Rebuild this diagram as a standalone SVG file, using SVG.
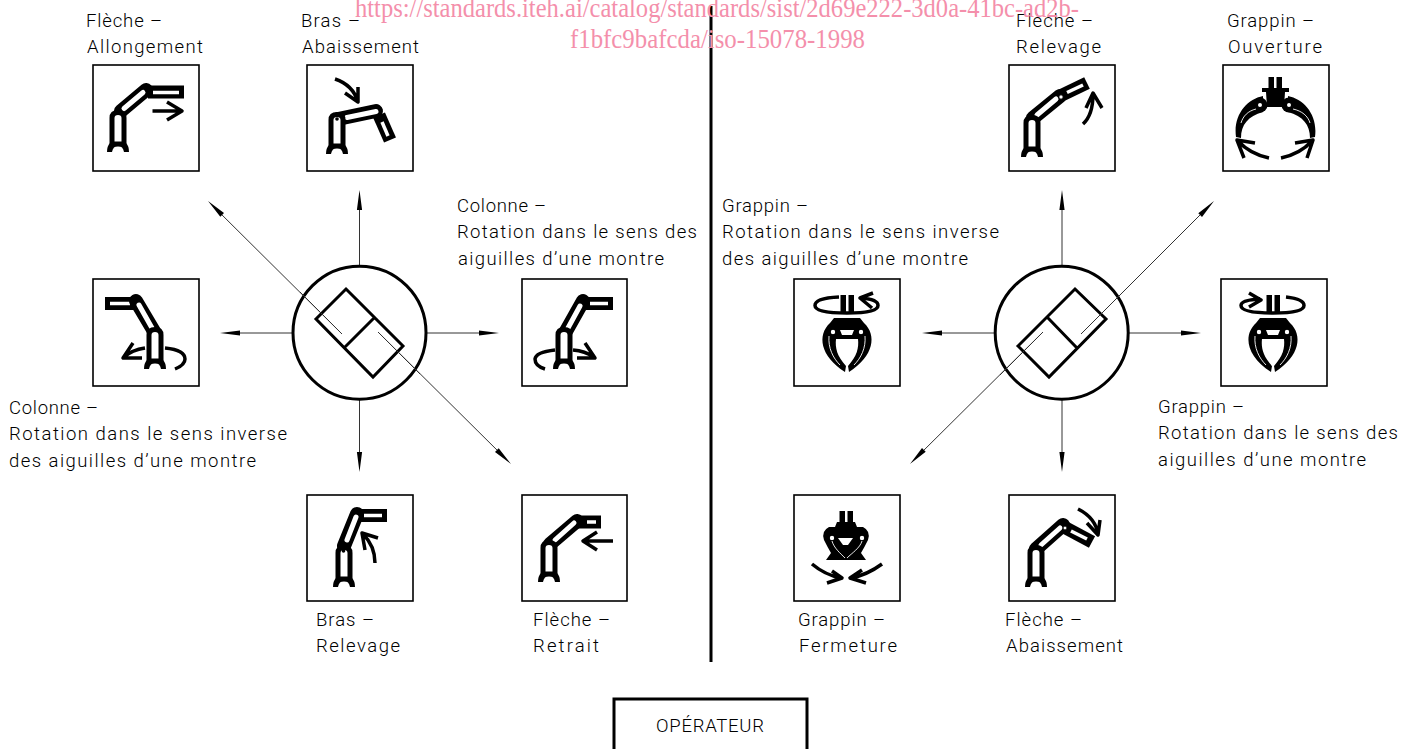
<svg xmlns="http://www.w3.org/2000/svg" xmlns:xlink="http://www.w3.org/1999/xlink" width="1414" height="749" viewBox="0 0 1414 749">
<style>
.bg{fill:#fff}
.box{fill:#fff;stroke:#000;stroke-width:1.6}
text.t{font-family:"Roboto","Liberation Sans",sans-serif;font-weight:300;font-size:18.5px;fill:#000}
text.wm{font-family:"Liberation Serif",serif;font-size:27px;fill:#f48fab}
.o{fill:none;stroke:#000;stroke-width:14;stroke-linecap:round}
.f{fill:none;stroke:#000;stroke-width:13}
.i{fill:none;stroke:#fff;stroke-width:5;stroke-linecap:round}
.s{fill:none;stroke:#fff;stroke-width:3.5}
.a{fill:none;stroke:#000;stroke-width:3.5;stroke-linejoin:round}
.k{fill:#000}
.th{fill:none;stroke:#000;stroke-width:3}
.cn{fill:none;stroke:#333;stroke-width:1}
.ah{fill:#000;stroke:none}
.pv{fill:#fff;stroke:#000;stroke-width:1.2}
.hl{fill:none;stroke:#fff;stroke-width:.9}
</style>
<defs>
<g id="col">
<path d="M-6,34V8Q-6,2.500 0,2.500Q6,2.500 6,8V34Z" fill="#fff" stroke="#000" stroke-width="5"/>
<path class="k" d="M-11,42Q-11,36 -8,33H8Q11,36 11,42H6Q5,36 0,36Q-5,36 -6,42Z"/>
</g>
<g id="halfgrip">
<path class="k" d="M0,0H-13L-17,5C-30,17 -27,38 -2,54L-1,48C-10,38 -12,30 -11,21H0V17H-5L-7,12H0Z"/>
<circle cx="-14" cy="14" r="2.800" class="pv"/>
<path class="hl" d="M-18,18C-19,30 -14,40 -7,47"/>
</g>
<g id="grip">
<use xlink:href="#halfgrip" href="#halfgrip"/>
<use xlink:href="#halfgrip" href="#halfgrip" transform="scale(-1,1)"/>
</g>
<g id="bars">
<rect x="-6.500" y="0" width="5.500" height="18" class="k"/>
<rect x="1.500" y="0" width="5.500" height="18" class="k"/>
</g>
</defs>
<rect class="bg" width="1414" height="749"/>

<g id="connectors">
<path class="cn" d="M359.500,266V200M293,333H230M426,333H489M359.500,399V462"/>
<path class="cn" d="M342,334L214,207M378,332L505,458"/>
<path class="cn" d="M1062,266V200M995,333H932M1128,333H1191M1062,399V462"/>
<path class="cn" d="M1043,332L916,458M1081,334L1208,207"/>
<path class="ah" d="M359.500,190l2.600,20h-5.200zM220,333l20,-2.600v5.200zM499,333l-20,-2.600v5.200zM359.500,472l2.600,-20h-5.200z"/>
<path class="ah" d="M208,201l16,12l-3.700,3.700zM511,464l-16,-12l3.700,-3.700z"/>
<path class="ah" d="M1062,190l2.600,20h-5.200zM922,333l20,-2.600v5.200zM1201,333l-20,-2.600v5.200zM1062,472l2.600,-20h-5.200z"/>
<path class="ah" d="M1214,201l-12,16l-3.700,-3.700zM910,464l12,-16l3.700,3.700z"/>
</g>

<g id="separator"><path d="M711,6V662" stroke="#000" stroke-width="3" fill="none"/></g>

<g id="selector-left">
<circle cx="359.500" cy="332.700" r="66.500" class="th"/>
<path class="th" d="M346,289L403,346L373,377L316,319ZM374,318L345,347"/>
<path class="cn" d="M342,334L300,292M378,332L420,374"/>
</g>
<g id="selector-right">
<circle cx="1061.700" cy="332.700" r="66.500" class="th"/>
<path class="th" d="M1075,289L1106,319L1049,377L1018,346ZM1048,318L1077,348"/>
<path class="cn" d="M1043,332L1000,375M1081,334L1123,292"/>
</g>

<g id="n-fleche-allongement">
<rect class="box" x="93" y="65" width="106" height="106"/>
<path class="f" d="M148,92H184"/><path class="s" d="M153,92.500H179"/>
<path class="o" d="M121,111L146,90"/><path class="i" d="M124,108.500L143,92.500"/>
<use xlink:href="#col" href="#col" x="118" y="110"/>
<path class="a" d="M152.500,111H182M167,102L182,111L167,120"/>
<text class="t" x="86" y="27" textLength="76">Flèche –</text>
<text class="t" x="87" y="53" textLength="116">Allongement</text>
</g>

<g id="n-bras-abaissement">
<rect class="box" x="307" y="65" width="106" height="106"/>
<path class="f" d="M379,115L390,140"/><path class="s" d="M382,122L388,136"/>
<path class="o" d="M338,119L376,111"/><path class="i" d="M347,117.500L376,111.500"/>
<use xlink:href="#col" href="#col" x="337" y="112"/>
<circle cx="337" cy="119" r="1.800" class="k"/>
<path class="a" d="M335,79Q353,85 358,102M345,93L358,102L358,87"/>
<text class="t" x="301" y="27" textLength="59">Bras –</text>
<text class="t" x="302" y="53" textLength="117">Abaissement</text>
</g>

<g id="n-colonne-inverse">
<rect class="box" x="93" y="279" width="106" height="107"/>
<path class="f" d="M105,303.500H136"/><path class="s" d="M110,303.500H130"/>
<path class="o" d="M136,301L155,333"/><path class="i" d="M139,305L152,328"/>
<use xlink:href="#col" href="#col" x="155" y="327"/>
<path class="a" d="M145,348Q132,350 124,357M165,348Q185,350 185,359Q185,365 175,369M133,343L123,358L142,358"/>
<text class="t" x="9" y="414" textLength="89">Colonne –</text>
<text class="t" x="9" y="440" textLength="278">Rotation dans le sens inverse</text>
<text class="t" x="9" y="467" textLength="247">des aiguilles d’une montre</text>
</g>

<g id="n-colonne-sens">
<rect class="box" x="522" y="279" width="105" height="107"/>
<path class="f" d="M584,303.500H613"/><path class="s" d="M590,303.500H608"/>
<path class="o" d="M583,301L565,333"/><path class="i" d="M580,306L568,328"/>
<use xlink:href="#col" href="#col" x="564" y="327"/>
<path class="a" d="M555,350Q536,352 535,359Q535,366 545,369M573,350Q585,351 594,357M585,343L595,358L577,358"/>
<text class="t" x="457" y="212" textLength="89">Colonne –</text>
<text class="t" x="457" y="238" textLength="240">Rotation dans le sens des</text>
<text class="t" x="458" y="265" textLength="206">aiguilles d’une montre</text>
</g>

<g id="n-bras-relevage">
<rect class="box" x="307" y="495" width="106" height="106"/>
<path class="f" d="M358,515.500H387"/><path class="s" d="M364,515.500H382"/>
<path class="o" d="M344,546L357,514"/><path class="i" d="M347,540L356,517"/>
<use xlink:href="#col" href="#col" x="344" y="545"/>
<circle cx="343.500" cy="551" r="1.800" class="k"/>
<path class="a" d="M375,563Q375,546 363,534M378,538L362,533L365,550"/>
<text class="t" x="316" y="626" textLength="58">Bras –</text>
<text class="t" x="316" y="652" textLength="84">Relevage</text>
</g>

<g id="n-fleche-retrait">
<rect class="box" x="522" y="495" width="105" height="106"/>
<path class="f" d="M578,522H601"/><path class="s" d="M587,522H596"/>
<path class="o" d="M550,544L577,521"/><path class="i" d="M555,540L574,523"/>
<use xlink:href="#col" href="#col" x="549" y="540"/>
<path class="a" d="M613,541H583M597,532L583,541L597,550"/>
<text class="t" x="533" y="626" textLength="77">Flèche –</text>
<text class="t" x="533" y="652" textLength="66">Retrait</text>
</g>

<g id="n-fleche-relevage">
<rect class="box" x="1009" y="65" width="106" height="106"/>
<path class="f" d="M1060,96L1087,83"/><path class="s" d="M1067,92.500L1083,85"/>
<path class="o" d="M1033,118L1060,96"/><path class="i" d="M1037,115L1056,99"/>
<use xlink:href="#col" href="#col" x="1032" y="115"/>
<circle cx="1061" cy="97" r="2.200" fill="#fff" stroke="#000" stroke-width="1"/>
<path class="a" d="M1083,124Q1093,115 1093,94M1086,108L1093,93L1102,108"/>
<text class="t" x="1016" y="27" textLength="77">Flèche –</text>
<text class="t" x="1016" y="53" textLength="85">Relevage</text>
</g>

<g id="n-grappin-ouverture">
<rect class="box" x="1223" y="65" width="106" height="106"/>
<use xlink:href="#bars" href="#bars" x="1275" y="77"/>
<path class="k" d="M1262,88H1289V92H1285L1284,107H1267L1266,92H1262Z"/>
<circle cx="1260" cy="105" r="7.500" class="k"/>
<circle cx="1289" cy="105" r="7.500" class="k"/>
<path class="k" d="M1263,96C1247,99 1233,115 1236,137L1241,138C1241,125 1248,116 1263,112ZM1288,96C1304,99 1318,115 1315,137L1310,138C1310,125 1303,116 1288,112Z"/>
<circle cx="1260" cy="105" r="2.600" class="pv"/>
<circle cx="1289" cy="105" r="2.600" class="pv"/>
<path class="hl" d="M1256,109C1248,111 1243,116 1241,123M1293,109C1302,111 1308,116 1310,123"/>
<path class="a" d="M1269,158Q1250,154 1238,141M1255,143L1237,140L1244,158M1281,158Q1300,154 1312,141M1295,143L1313,140L1307,158"/>
<text class="t" x="1227" y="27" textLength="87">Grappin –</text>
<text class="t" x="1228" y="53" textLength="94">Ouverture</text>
</g>

<g id="n-grappin-inverse">
<rect class="box" x="794" y="279" width="106" height="107"/>
<path class="a" d="M839,297Q815,298 815,305.500Q815,313 847,313Q878,313 878,305.500Q878,299 860,298M873,293L860,298L872,308"/>
<use xlink:href="#bars" href="#bars" x="847" y="295"/>
<use xlink:href="#grip" href="#grip" x="847" y="318"/>
<text class="t" x="722" y="212" textLength="86">Grappin –</text>
<text class="t" x="722" y="238" textLength="277">Rotation dans le sens inverse</text>
<text class="t" x="722" y="265" textLength="246">des aiguilles d’une montre</text>
</g>

<g id="n-grappin-sens">
<rect class="box" x="1221" y="279" width="106" height="107"/>
<path class="a" d="M1260,299Q1241,300 1241,305.500Q1241,313 1273,313Q1304,313 1304,305.500Q1304,299 1286,297M1249,293L1261,300L1249,307"/>
<use xlink:href="#bars" href="#bars" x="1273" y="295"/>
<use xlink:href="#grip" href="#grip" x="1273" y="318"/>
<text class="t" x="1158" y="413" textLength="86">Grappin –</text>
<text class="t" x="1158" y="439" textLength="240">Rotation dans le sens des</text>
<text class="t" x="1158" y="466" textLength="208">aiguilles d’une montre</text>
</g>

<g id="n-grappin-fermeture">
<rect class="box" x="794" y="495" width="106" height="106"/>
<use xlink:href="#bars" href="#bars" x="846" y="511"/>
<path class="k" d="M837,522H855L857,527H863Q871,531 868,540Q864,548 861,553L866,560H826L831,553Q828,548 824,540Q821,531 829,527H835Z"/>
<path fill="#fff" d="M838,538H853L848,545H843Z"/>
<circle cx="832" cy="538" r="2.800" class="pv"/>
<circle cx="862" cy="538" r="2.800" class="pv"/>
<path class="hl" d="M832,541C834,548 840,553 845,558M862,541C860,548 852,553 847,558"/>
<path class="a" d="M812,564Q825,575 841,578M832,571L842,578L827,583M882,564Q867,575 851,578M862,570L850,578L866,583"/>
<text class="t" x="798" y="626" textLength="87">Grappin –</text>
<text class="t" x="799" y="652" textLength="98">Fermeture</text>
</g>

<g id="n-fleche-abaissement">
<rect class="box" x="1009" y="495" width="106" height="106"/>
<path class="f" d="M1064,527L1092,542"/><path class="s" d="M1071,531L1087,539"/>
<path class="o" d="M1036,549L1063,525"/><path class="i" d="M1041,545L1060,528"/>
<use xlink:href="#col" href="#col" x="1036" y="545"/>
<circle cx="1065" cy="528" r="2" fill="#fff" stroke="#000" stroke-width="1"/>
<path class="a" d="M1078,509Q1096,518 1098,535M1087,523L1098,535L1100,520"/>
<text class="t" x="1005" y="626" textLength="77">Flèche –</text>
<text class="t" x="1006" y="652" textLength="117">Abaissement</text>
</g>

<g id="n-operateur">
<path d="M614,749V699H807V749" fill="none" stroke="#000" stroke-width="3"/>
<text class="t" x="656" y="732" textLength="108">OPÉRATEUR</text>
</g>

<g id="watermark">
<text class="wm" x="355" y="17" textLength="724" lengthAdjust="spacingAndGlyphs">https://standards.iteh.ai/catalog/standards/sist/2d69e222-3d0a-41bc-ad2b-</text>
<text class="wm" x="570" y="48" textLength="295" lengthAdjust="spacingAndGlyphs">f1bfc9bafcda/iso-15078-1998</text>
</g>
</svg>
